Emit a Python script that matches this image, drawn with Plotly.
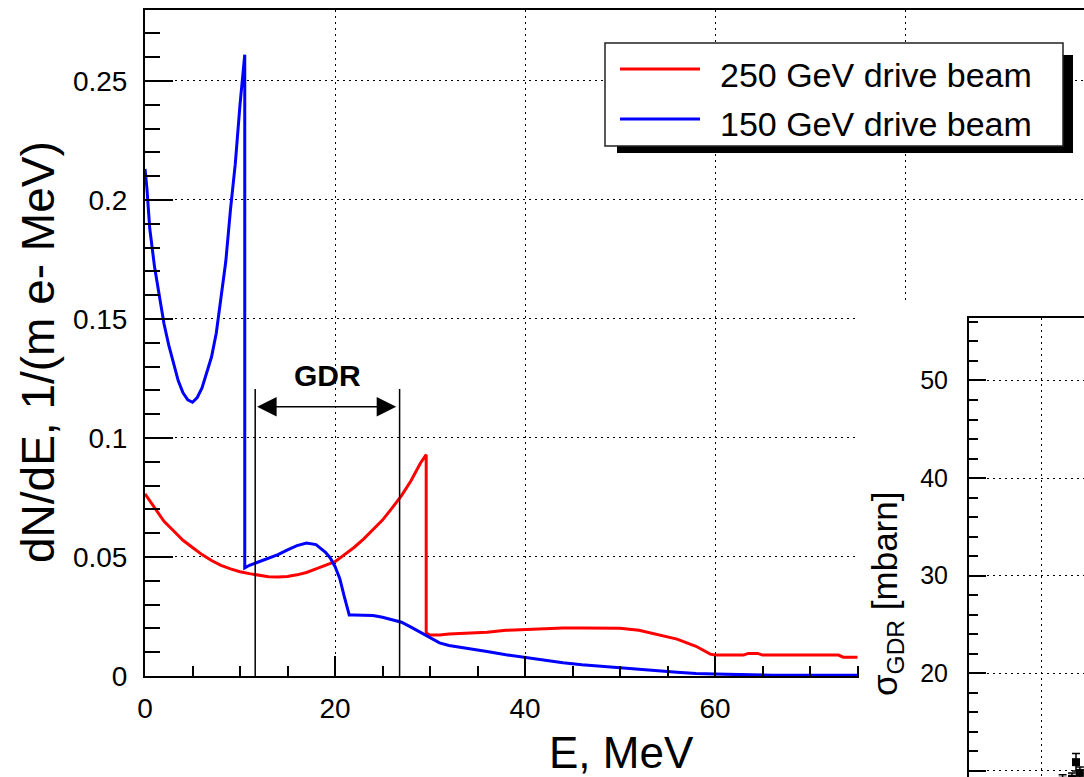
import plotly.graph_objects as go

W, H = 1084, 777

# ---------------- data ----------------
blue_E = [0, 0.2, 0.5, 1.0, 1.5, 2.0, 2.5, 3.0, 3.5, 4.0, 4.5, 5.0, 5.5, 6.0, 6.5,
          7.0, 7.5, 8.0, 8.5, 9.0, 9.5, 10.0, 10.5, 10.5, 11.0, 12.0, 13.0, 14.0,
          15.0, 16.0, 17.0, 18.0, 19.0, 19.5, 20.0, 20.5, 21.0, 21.5, 22.0, 23.0,
          24.0, 25.0, 26.0, 27.0, 28.0, 29.0, 30.0, 31.0, 32.0, 34.0, 36.0, 38.0,
          40.0, 42.0, 44.0, 46.0, 48.0, 50.0, 52.0, 54.0, 56.0, 58.0, 60.0, 62.0,
          64.0, 66.0, 70.0, 75.0]
blue_dNdE = [0.213, 0.205, 0.188, 0.172, 0.160, 0.148, 0.139, 0.131, 0.124, 0.119,
             0.116, 0.115, 0.117, 0.121, 0.127, 0.134, 0.144, 0.158, 0.174, 0.196,
             0.215, 0.240, 0.261, 0.0454, 0.0465, 0.0480, 0.0495, 0.0510, 0.0530,
             0.0548, 0.0559, 0.0552, 0.0520, 0.0496, 0.0460, 0.0410, 0.0330, 0.0256,
             0.0256, 0.0256, 0.0254, 0.0247, 0.0238, 0.0226, 0.0205, 0.0183, 0.0160,
             0.0139, 0.0128, 0.0117, 0.0103, 0.0089, 0.0077, 0.0066, 0.0056, 0.0047,
             0.0040, 0.0034, 0.0028, 0.0022, 0.0016, 0.0010, 0.0008, 0.0006, 0.0005,
             0.0003, 0.0003, 0.0003]

red_E = [0, 1.0, 2.0, 3.0, 4.0, 5.0, 6.0, 7.0, 8.0, 9.0, 10.0, 11.0, 12.0, 13.0,
         14.0, 15.0, 16.0, 17.0, 18.0, 19.0, 20.0, 21.0, 22.0, 23.0, 24.0, 25.0,
         26.0, 27.0, 28.0, 29.0, 29.6, 29.6, 30.0, 31.0, 32.0, 34.0, 36.0, 38.0,
         40.0, 42.0, 44.0, 46.0, 48.0, 50.0, 52.0, 54.0, 56.0, 58.0, 59.5, 60.0,
         63.0, 63.5, 64.5, 65.0, 73.0, 73.5, 75.0]
red_dNdE = [0.0765, 0.0710, 0.0650, 0.0610, 0.0570, 0.0540, 0.0510, 0.0485, 0.0465,
            0.0450, 0.0438, 0.0430, 0.0422, 0.0417, 0.0416, 0.0418, 0.0425, 0.0435,
            0.0450, 0.0465, 0.0480, 0.0510, 0.0540, 0.0575, 0.0615, 0.0655, 0.0705,
            0.0758, 0.0820, 0.0895, 0.0930, 0.0180, 0.0172, 0.0172, 0.0176, 0.0180,
            0.0184, 0.0192, 0.0196, 0.0201, 0.0202, 0.0202, 0.0202, 0.0201, 0.0192,
            0.0175, 0.0155, 0.0125, 0.0092, 0.0088, 0.0088, 0.0095, 0.0095, 0.0088,
            0.0088, 0.0079, 0.0079]

series_names = ["250 GeV drive beam", "150 GeV drive beam"]
gdr_range = [11.6, 26.8]          # MeV

x_ticks = [0, 20, 40, 60, 80]
x_ticktext = ["0", "20", "40", "60", "80"]
y_ticks = [0, 0.05, 0.1, 0.15, 0.2, 0.25]
y_ticktext = ["0", "0.05", "0.1", "0.15", "0.2", "0.25"]

# inset (sigma_GDR panel, mostly outside the picture)
inset_A = [65, 71.5, 74.3, 77]
inset_sigma = [9.0, 9.2, 10.9, 9.8]
inset_err = [0.6, 0.6, 0.9, 0.6]
inset_y_ticks = [10, 20, 30, 40, 50]
inset_x_ticks = [0, 50, 100, 150, 200, 250]

# ---------------- helpers ----------------
def px(x):
    return x / W


def py(y):
    return 1 - y / H


FONT = "Liberation Sans, Arial, Helvetica, sans-serif"
RED = "#ff0000"
BLUE = "#0000ff"
BLACK = "#000000"

fig = go.Figure()
fig.add_trace(go.Scatter(x=red_E, y=red_dNdE, mode="lines", name=series_names[0],
                         line=dict(color=RED, width=3), showlegend=False,
                         xaxis="x", yaxis="y"))
fig.add_trace(go.Scatter(x=blue_E, y=blue_dNdE, mode="lines", name=series_names[1],
                         line=dict(color=BLUE, width=3), showlegend=False,
                         xaxis="x", yaxis="y"))
# cover subplot (white pad of the inset panel)
fig.add_trace(go.Scatter(x=[], y=[], xaxis="x2", yaxis="y2", showlegend=False,
                         hoverinfo="skip"))
# inset points
fig.add_trace(go.Scatter(x=inset_A, y=inset_sigma, mode="markers",
                         marker=dict(symbol="square", size=8, color=BLACK),
                         error_y=dict(type="data", array=inset_err, color=BLACK,
                                      thickness=1.5, width=4),
                         showlegend=False, xaxis="x3", yaxis="y3"))

x_px_per = 9.5
x_max = (W - 145) / x_px_per

grid = dict(showgrid=True, gridcolor=BLACK, gridwidth=1, griddash="2px,4px")

fig.update_layout(
    width=W, height=H,
    margin=dict(l=0, r=0, t=0, b=0),
    paper_bgcolor="white", plot_bgcolor="white",
    font=dict(family=FONT, color=BLACK),
    showlegend=False,
    xaxis=dict(domain=[px(145), 1], range=[0, x_max], anchor="y",
               showline=True, linecolor=BLACK, linewidth=2, mirror=True,
               ticks="inside", ticklen=20, tickwidth=2, tickcolor=BLACK,
               tickmode="array", tickvals=x_ticks, ticktext=x_ticktext,
               tickfont=dict(size=28, family=FONT), ticklabelstandoff=6,
               zeroline=False, automargin=False,
               minor=dict(tickmode="linear", tick0=0, dtick=5, ticks="inside",
                          ticklen=10, tickwidth=2, tickcolor=BLACK, showgrid=False),
               **grid),
    yaxis=dict(domain=[py(676), py(9.5)], range=[0, 0.28], anchor="x",
               showline=True, linecolor=BLACK, linewidth=2, mirror=False,
               ticks="inside", ticklen=28, tickwidth=2, tickcolor=BLACK,
               tickmode="array", tickvals=y_ticks, ticktext=y_ticktext,
               tickfont=dict(size=28, family=FONT), ticklabelstandoff=10,
               zeroline=False, automargin=False,
               minor=dict(tickmode="linear", tick0=0, dtick=0.01, ticks="inside",
                          ticklen=15, tickwidth=2, tickcolor=BLACK, showgrid=False),
               **grid),
    xaxis2=dict(domain=[px(859), 1], range=[0, 1], anchor="y2", visible=False,
                fixedrange=True),
    yaxis2=dict(domain=[0, py(304)], range=[0, 1], anchor="x2", visible=False,
                fixedrange=True),
    xaxis3=dict(domain=[px(969), 1], range=[0, (W - 969) / 1.44], anchor="y3",
                side="top", showline=True, linecolor=BLACK, linewidth=2,
                ticks="", showticklabels=False, tickmode="array",
                tickvals=inset_x_ticks, zeroline=False, automargin=False, **grid),
    yaxis3=dict(domain=[0, py(318)], range=[9.38, 56.4], anchor="x3",
                showline=True, linecolor=BLACK, linewidth=2,
                ticks="inside", ticklen=17, tickwidth=2, tickcolor=BLACK,
                tickmode="array", tickvals=inset_y_ticks,
                tickfont=dict(size=25, family=FONT), ticklabelstandoff=14,
                zeroline=False, automargin=False,
                minor=dict(tickmode="linear", tick0=0, dtick=2, ticks="inside",
                           ticklen=9, tickwidth=2, tickcolor=BLACK, showgrid=False),
                **grid),
)

shapes = [
    # white pad of the inset panel, covering the lower-right of the main plot
    dict(type="rect", xref="x2", yref="y2", x0=-0.1, x1=1.1, y0=-0.1, y1=1.1,
         fillcolor="white", line=dict(width=0), layer="below"),
    # GDR boundaries
    dict(type="line", xref="x", yref="y", x0=gdr_range[0], x1=gdr_range[0],
         y0=0, y1=0.1206, line=dict(color=BLACK, width=1.5), layer="above"),
    dict(type="line", xref="x", yref="y", x0=gdr_range[1], x1=gdr_range[1],
         y0=0, y1=0.1206, line=dict(color=BLACK, width=1.5), layer="above"),
    # legend shadow and box
    dict(type="rect", xref="paper", yref="paper", x0=px(617), x1=px(1073),
         y0=py(153), y1=py(55), fillcolor=BLACK, line=dict(width=0), layer="above"),
    dict(type="rect", xref="paper", yref="paper", x0=px(605), x1=px(1063),
         y0=py(146), y1=py(43), fillcolor="white",
         line=dict(color="#222222", width=1.5), layer="above"),
    # legend line samples
    dict(type="line", xref="paper", yref="paper", x0=px(620), x1=px(700),
         y0=py(69), y1=py(69), line=dict(color=RED, width=3), layer="above"),
    dict(type="line", xref="paper", yref="paper", x0=px(620), x1=px(700),
         y0=py(119), y1=py(119), line=dict(color=BLUE, width=3), layer="above"),
]
fig.update_layout(shapes=shapes)

gdr_mid = (gdr_range[0] + gdr_range[1]) / 2
arrow_y = 0.1131
annotations = [
    dict(x=gdr_range[0] + 0.2, y=arrow_y, ax=gdr_range[1] - 0.2, ay=arrow_y,
         xref="x", yref="y", axref="x", ayref="y", text="", showarrow=True,
         arrowhead=2, arrowside="end+start", arrowsize=2.6,
         arrowwidth=1.5, arrowcolor=BLACK, standoff=0, startstandoff=0),
    dict(x=gdr_mid, y=0.1264, xref="x", yref="y", text="<b>GDR</b>", showarrow=False,
         font=dict(size=30, family=FONT, color=BLACK), xanchor="center", yanchor="middle"),
    # axis titles
    dict(x=px(621), y=py(752), xref="paper", yref="paper", text="E, MeV",
         showarrow=False, font=dict(size=44, family=FONT, color=BLACK),
         xanchor="center", yanchor="middle"),
    dict(x=px(38), y=py(352), xref="paper", yref="paper", text="dN/dE, 1/(m e- MeV)",
         showarrow=False, textangle=-90, font=dict(size=46, family=FONT, color=BLACK),
         xanchor="center", yanchor="middle"),
    dict(x=px(887), y=py(594), xref="paper", yref="paper",
         text="σ<sub>GDR</sub> [mbarn]", showarrow=False, textangle=-90,
         font=dict(size=35, family=FONT, color=BLACK),
         xanchor="center", yanchor="middle"),
    # legend texts
    dict(x=px(718), y=py(75), xref="paper", yref="paper", text=series_names[0],
         showarrow=False, font=dict(size=34, family=FONT, color=BLACK),
         xanchor="left", yanchor="middle"),
    dict(x=px(718), y=py(124), xref="paper", yref="paper", text=series_names[1],
         showarrow=False, font=dict(size=34, family=FONT, color=BLACK),
         xanchor="left", yanchor="middle"),
]
fig.update_layout(annotations=annotations)

fig.write_html("out.html",
               config={"displayModeBar": False},
               post_script="document.body.style.margin='0px';"
                           "document.body.style.overflow='hidden';")
